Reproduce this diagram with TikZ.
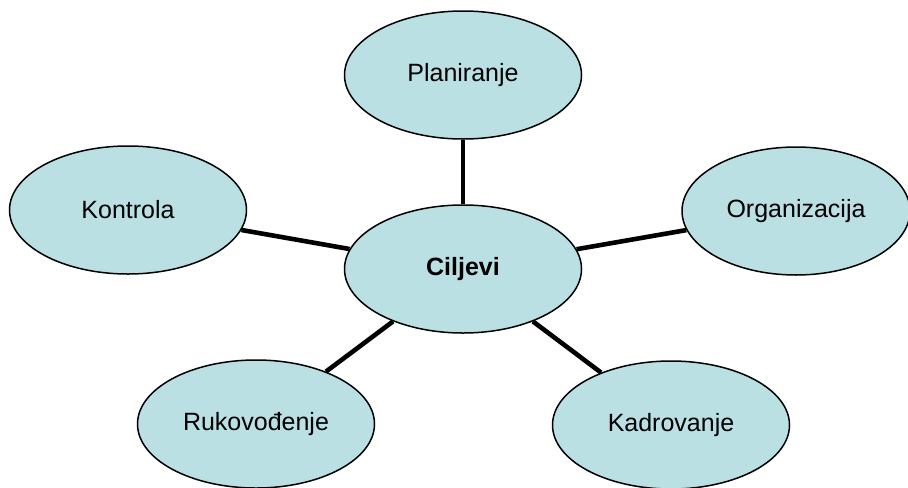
\documentclass[tikz,border=0pt]{standalone}
\usepackage{fontspec}
\setmainfont{Liberation Sans}
\usepackage{xcolor}
\usepackage{tikz}
\usetikzlibrary{shapes,positioning}

\definecolor{ovalfill}{RGB}{186,224,228}

\begin{document}
\begin{tikzpicture}[x=0.5pt,y=-0.5pt,
    oval/.style={ellipse, draw=black, line width=0.75pt, fill=ovalfill,
        minimum width=118.5pt, minimum height=64pt, inner sep=0pt,
        font=\fontsize{12.5}{15}\selectfont},
    spoke/.style={line width=2.3pt, black}]
    \useasboundingbox (0,0) rectangle (908,487);

    % sredi\v{s}nji cilj
    \node[oval, font=\fontsize{12.5}{15}\selectfont\bfseries] (ciljevi) at (463,269) {Ciljevi};

    % funkcije
    \node[oval] (planiranje) at (463,75) {Planiranje};
    \node[oval] (kontrola) at (128,210) {Kontrola};
    \node[oval, minimum width=114pt] (organizacija) at (796,211) {Organizacija};
    \node[oval] (rukovodjenje) at (256,424) {Rukovođenje};
    \node[oval] (kadrovanje) at (671,425) {Kadrovanje};

    % veze
    \draw[spoke] (ciljevi) -- (planiranje);
    \draw[spoke] (ciljevi) -- (kontrola);
    \draw[spoke] (ciljevi) -- (organizacija);
    \draw[spoke] (ciljevi) -- (rukovodjenje);
    \draw[spoke] (ciljevi) -- (kadrovanje);
\end{tikzpicture}
\end{document}
